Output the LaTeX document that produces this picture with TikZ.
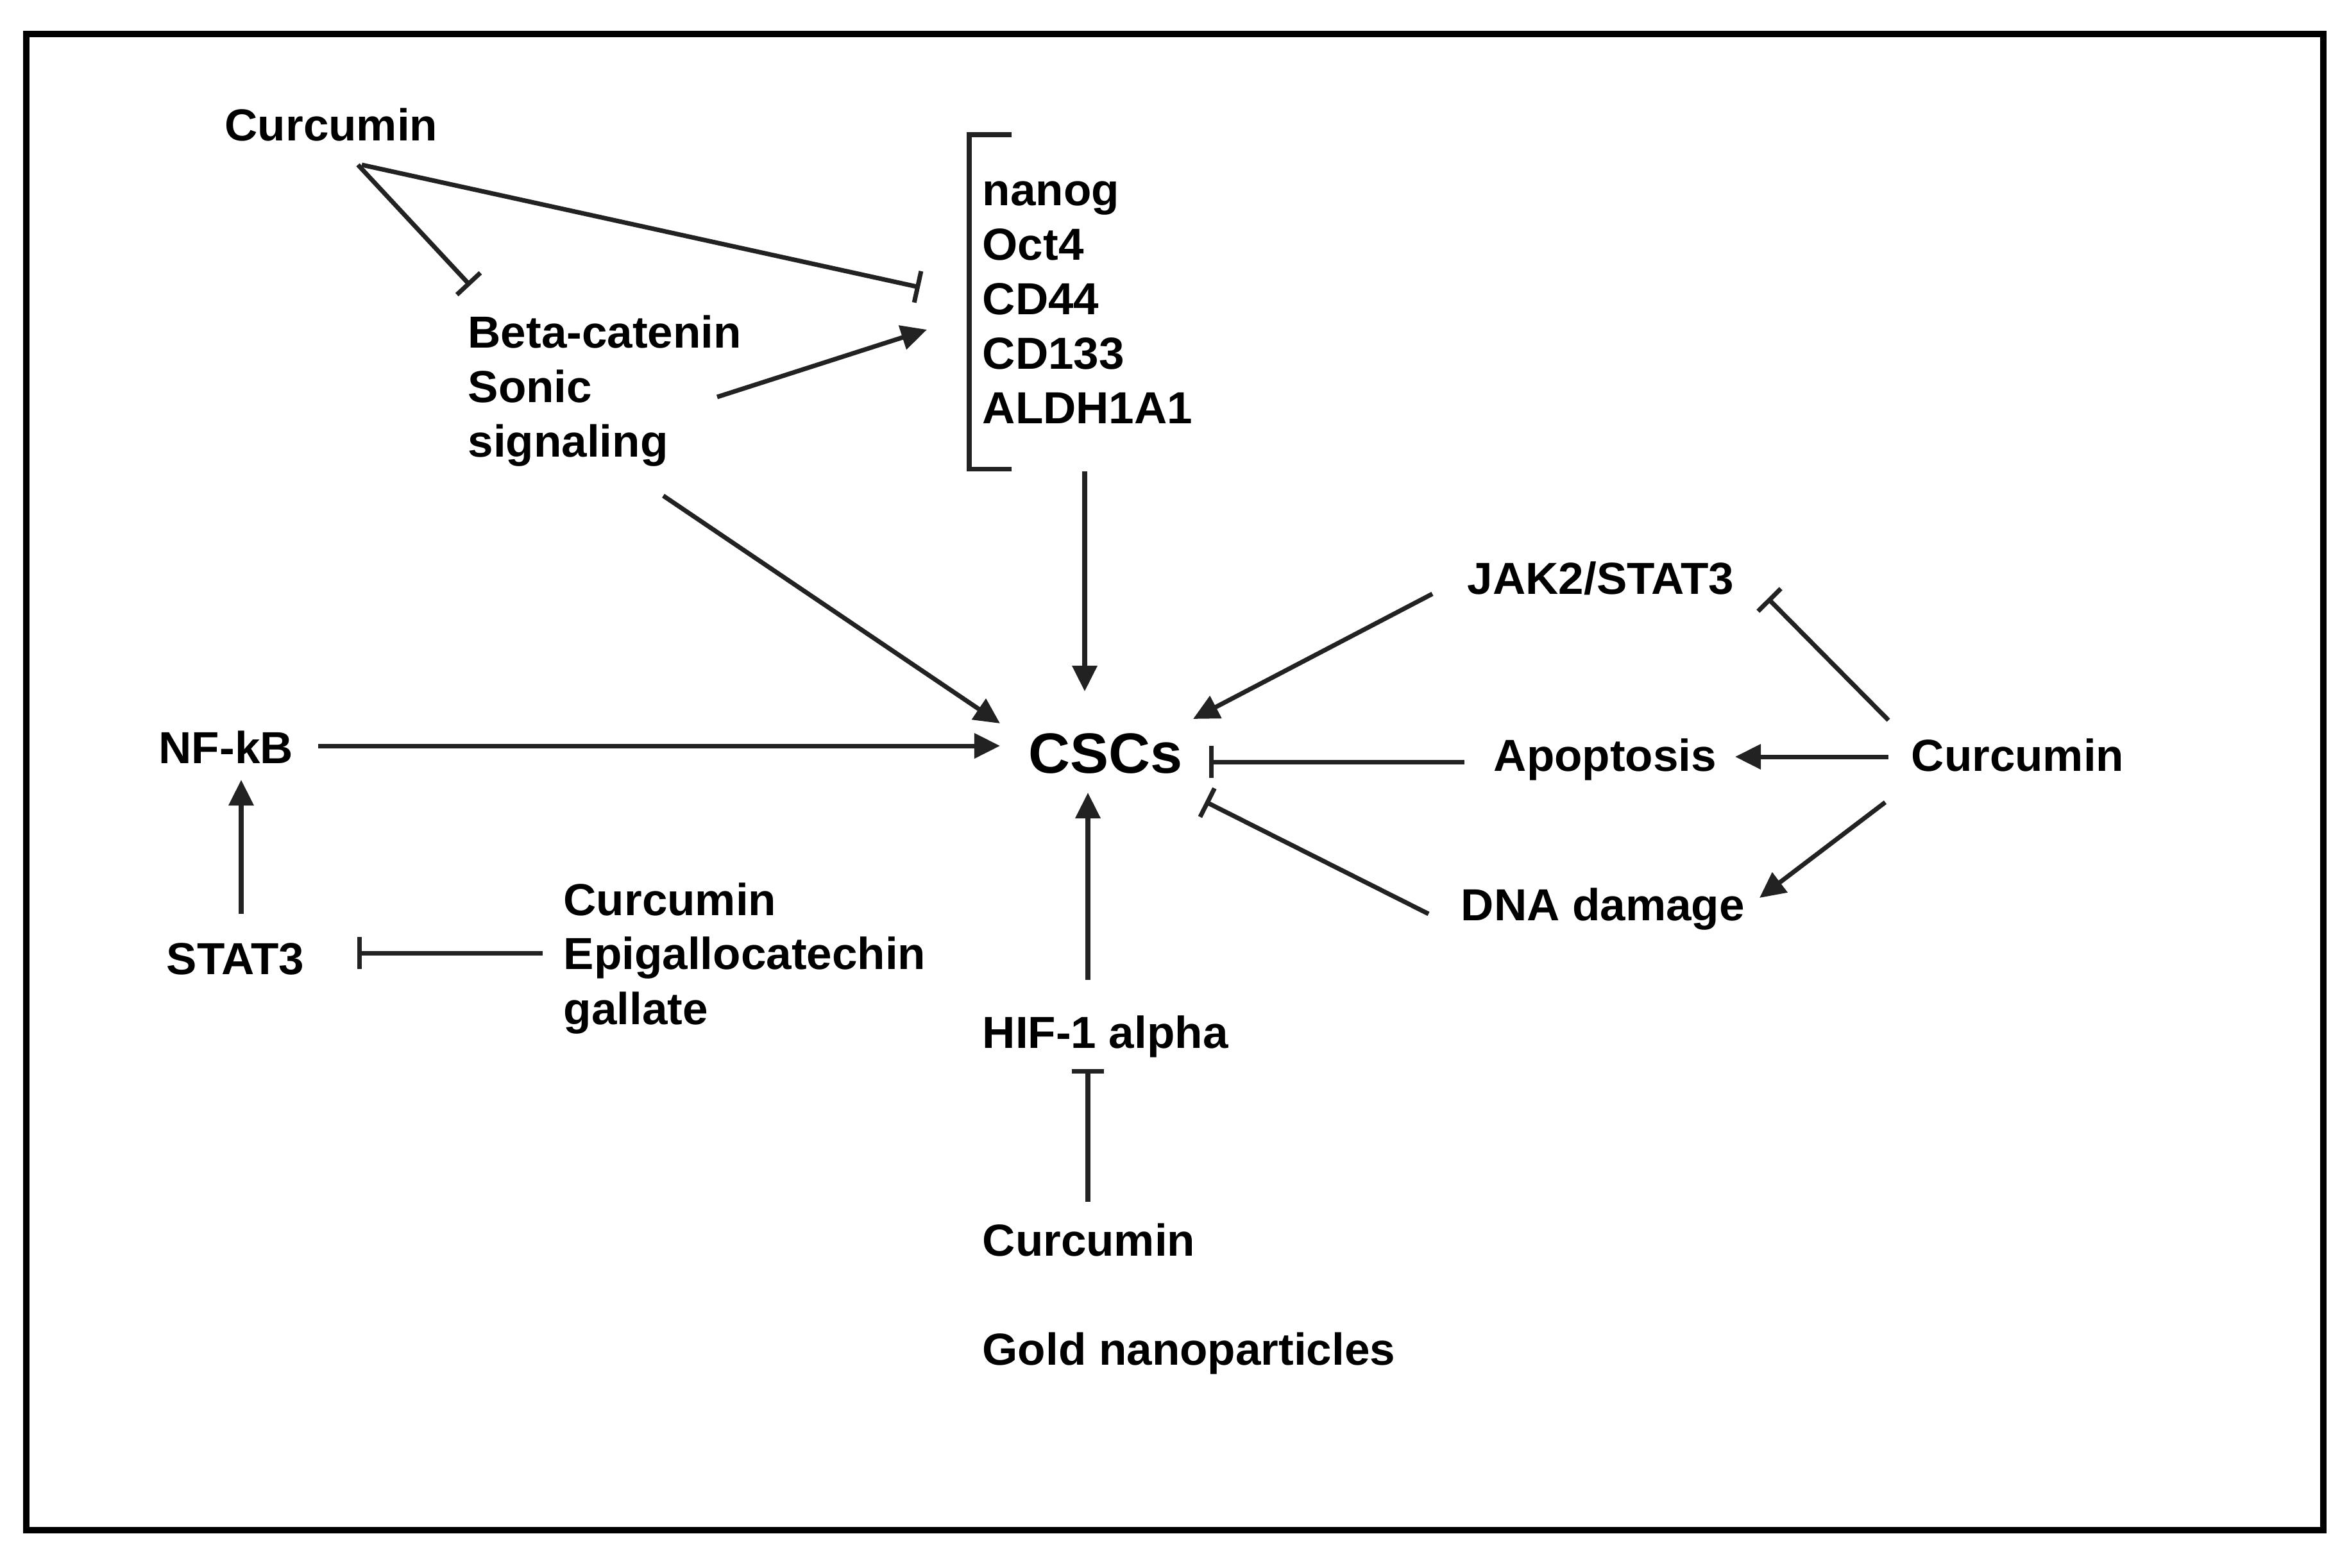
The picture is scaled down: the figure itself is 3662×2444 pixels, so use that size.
\documentclass[tikz,border=0pt]{standalone}
\usepackage{fontspec}
\setmainfont[FakeStretch=1.015]{Liberation Sans}
\usetikzlibrary{arrows.meta}
\definecolor{ln}{HTML}{222222}
\begin{document}
\begin{tikzpicture}[x=0.01cm,y=-0.01cm,
  lbl/.style={anchor=base west,inner sep=0pt,font=\fontsize{19.9}{24}\selectfont\bfseries},
  big/.style={anchor=base west,inner sep=0pt,font=\fontsize{25.2}{30}\selectfont\bfseries},
  conn/.style={draw=ln,line width=2pt},
  act/.style={conn,-{Triangle[length=0.4cm,width=0.38cm]}},
  inh/.style={conn,-{Bar[width=0.5cm]}}]
\useasboundingbox (0,0) rectangle (3662,2444);
\draw[line width=2.8pt,black] (41,53) rectangle (3622,2386);
% labels
\node[lbl] (cur1) at (350,219) {Curcumin};
\node[lbl] (beta1) at (729,542) {Beta-catenin};
\node[lbl] (beta2) at (729,627) {Sonic};
\node[lbl] (beta3) at (729,712) {signaling};
\node[lbl] (m1) at (1531,320) {nanog};
\node[lbl] (m2) at (1531,405) {Oct4};
\node[lbl] (m3) at (1531,490) {CD44};
\node[lbl] (m4) at (1531,575) {CD133};
\node[lbl] (m5) at (1531,660) {ALDH1A1};
\node[big] (cscs) at (1603,1205) {CSCs};
\node[lbl] (nfkb) at (247,1190) {NF-kB};
\node[lbl] (stat3) at (259,1519) {STAT3};
\node[lbl] (eg1) at (878,1427) {Curcumin};
\node[lbl] (eg2) at (878,1511) {Epigallocatechin};
\node[lbl] (eg3) at (878,1597) {gallate};
\node[lbl] (hif) at (1531,1634) {HIF-1 alpha};
\node[lbl] (cur3) at (1531,1958) {Curcumin};
\node[lbl] (gold) at (1531,2128) {Gold nanoparticles};
\node[lbl] (jak) at (2287,926) {JAK2/STAT3};
\node[lbl] (apo) at (2328,1202) {Apoptosis};
\node[lbl] (cur4) at (2979,1202) {Curcumin};
\node[lbl] (dna) at (2277,1435) {DNA damage};
% bracket
\coordinate (brt) at (1577,210);
\coordinate (brb) at (1577,731);
\draw[conn] (brt) -- (1511,210) -- (1511,731) -- (brb);
% connector endpoints
\coordinate (a1s) at (558,257);  \coordinate (a1e) at (733,445);
\coordinate (a2s) at (564,257);  \coordinate (a2e) at (1434,448);
\coordinate (a3s) at (1118,619); \coordinate (a3e) at (1445,514);
\coordinate (a4s) at (1034,773); \coordinate (a4e) at (1559,1128);
\coordinate (a5s) at (1691,735); \coordinate (a5e) at (1691,1078);
\coordinate (a6s) at (496,1163); \coordinate (a6e) at (1559,1163);
\coordinate (a7s) at (376,1425); \coordinate (a7e) at (376,1216);
\coordinate (a8s) at (846,1486); \coordinate (a8e) at (557,1486);
\coordinate (a9s) at (1696,1528); \coordinate (a9e) at (1696,1236);
\coordinate (a10s) at (1696,1874); \coordinate (a10e) at (1696,1667);
\coordinate (a11s) at (2233,926); \coordinate (a11e) at (1860,1121);
\coordinate (a12s) at (2944,1123); \coordinate (a12e) at (2756,933);
\coordinate (a13s) at (2283,1188); \coordinate (a13e) at (1885,1188);
\coordinate (a14s) at (2944,1180); \coordinate (a14e) at (2705,1180);
\coordinate (a15s) at (2227,1425); \coordinate (a15e) at (1879,1250);
\coordinate (a16s) at (2939,1251); \coordinate (a16e) at (2743,1400);
% connectors
\draw[inh] (a1s) -- (a1e);
\draw[inh] (a2s) -- (a2e);
\draw[act] (a3s) -- (a3e);
\draw[act] (a4s) -- (a4e);
\draw[act] (a5s) -- (a5e);
\draw[act] (a6s) -- (a6e);
\draw[act] (a7s) -- (a7e);
\draw[inh] (a8s) -- (a8e);
\draw[act] (a9s) -- (a9e);
\draw[inh] (a10s) -- (a10e);
\draw[act] (a11s) -- (a11e);
\draw[inh] (a12s) -- (a12e);
\draw[inh] (a13s) -- (a13e);
\draw[act] (a14s) -- (a14e);
\draw[inh] (a15s) -- (a15e);
\draw[act] (a16s) -- (a16e);
\end{tikzpicture}
\end{document}
